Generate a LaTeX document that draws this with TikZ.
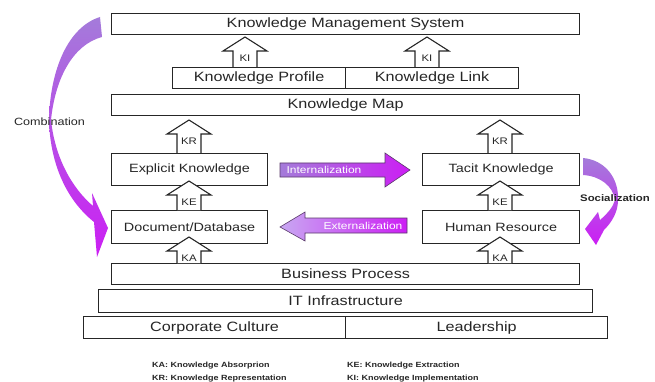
\documentclass[tikz,border=0pt]{standalone}
\usepackage{fontspec}
\setmainfont[FakeStretch=1.2]{Liberation Sans}
\usetikzlibrary{calc}

\definecolor{lav}{HTML}{A47BDA}
\definecolor{lavlight}{HTML}{C8A8F2}
\definecolor{mag}{HTML}{CC1EF4}
\definecolor{ink}{HTML}{262626}
\definecolor{edge}{HTML}{5A3A6A}

\tikzset{
  layer/.style={draw=ink, line width=1.2pt, fill=white, inner sep=0pt,
    anchor=north west, text=ink, font=\fontsize{13.5}{15}\selectfont},
  kbox/.style={layer, font=\fontsize{12}{14}\selectfont},
  blockarrow/.style={draw=ink, line width=1.1pt, fill=white, line join=miter},
  flowtag/.style={inner sep=0pt, text=ink, font=\fontsize{9.5}{11}\selectfont},
  flowband/.style={draw=edge, line width=0.6pt},
  bandtext/.style={inner sep=0pt, text=white, font=\fontsize{10}{12}\selectfont},
  modelabel/.style={inner sep=0pt, text=ink, font=\bfseries\fontsize{9.5}{11}\selectfont},
  legend/.style={inner sep=0pt, anchor=west, text=ink, font=\bfseries\fontsize{7.5}{9}\selectfont}
}

% upward block arrow: name, centre x, bottom y, tip y, label
\newcommand\blockup[5]{%
  \draw[blockarrow] (#2-12,#3) -- (#2-12,#4+14) -- (#2-22,#4+14) -- (#2,#4)
    -- (#2+22,#4+14) -- (#2+12,#4+14) -- (#2+12,#3);
  \node[flowtag] (#1) at (#2,#4+21) {#5};
}

\begin{document}
\begin{tikzpicture}[x=1pt,y=-1pt]
\useasboundingbox (0,0) rectangle (655,382);

% layered boxes
\node[layer, minimum width=468, minimum height=21] (kms) at (111,13) {Knowledge Management System};
\node[layer, minimum width=173, minimum height=21] (kprof) at (172,67) {Knowledge Profile};
\node[layer, minimum width=173, minimum height=21] (klink) at (345,67) {Knowledge Link};
\node[layer, minimum width=468, minimum height=21] (kmap) at (111,94) {Knowledge Map};
\node[kbox, minimum width=156, minimum height=32] (explicit) at (111,153) {Explicit Knowledge};
\node[kbox, minimum width=157, minimum height=32] (tacit) at (422,153) {Tacit Knowledge};
\node[kbox, minimum width=156, minimum height=33] (docdb) at (111,210) {Document/Database};
\node[kbox, minimum width=157, minimum height=33] (human) at (422,210) {Human Resource};
\node[layer, minimum width=468, minimum height=21] (bproc) at (111,263) {Business Process};
\node[layer, minimum width=494, minimum height=23] (itinf) at (98,289) {IT Infrastructure};
\node[layer, minimum width=262, minimum height=22] (corp) at (83,316) {Corporate Culture};
\node[layer, minimum width=262, minimum height=22] (lead) at (345,316) {Leadership};

% knowledge flows between layers
\blockup{kiL}{245}{67}{37}{KI}
\blockup{kiR}{427}{67}{37}{KI}
\blockup{krL}{189}{153}{120}{KR}
\blockup{krR}{500}{153}{120}{KR}
\blockup{keL}{189}{210}{181}{KE}
\blockup{keR}{500}{210}{181}{KE}
\blockup{kaL}{189}{263}{237}{KA}
\blockup{kaR}{500}{263}{237}{KA}

% internalization
\path[flowband, left color=lav, right color=mag]
  (280,163) -- (385,163) -- (385,153) -- (410,170) -- (385,187) -- (385,177) -- (280,177) -- cycle;
\node[bandtext] (intern) at (324,170) {Internalization};

% externalization
\path[flowband, left color=lavlight, right color=mag]
  (407,218) -- (305,218) -- (305,212) -- (280,227) -- (305,241) -- (305,233) -- (407,233) -- cycle;
\node[bandtext] (extern) at (363,226) {Externalization};

% combination
\path[top color=lav, middle color=lav, bottom color=mag]
  (100,17) .. controls (68,27) and (50,70) .. (49,120)
  .. controls (50,160) and (64,198) .. (94,222)
  -- (97,257) -- (108,228) -- (92,193) -- (93,206)
  .. controls (72,188) and (55,158) .. (51,120)
  .. controls (55,80) and (72,45) .. (102,37) -- cycle;
\node[modelabel, font=\fontsize{10.5}{12}\selectfont] (comb) at (49.5,122) {Combination};

% socialization
\path[top color=lav, middle color=lav, bottom color=mag]
  (583,158) .. controls (605,160) and (619,178) .. (618,200)
  .. controls (618,212) and (612,222) .. (604,230)
  -- (596,245) -- (585,229) -- (598,212) -- (600,220)
  .. controls (608,213) and (613,207) .. (615,200)
  .. controls (613,186) and (600,176) .. (583,175) -- cycle;
\node[modelabel] (soc) at (615,198) {Socialization};

% legend
\node[legend] (lgKA) at (152,366) {KA: Knowledge Absorprion};
\node[legend] (lgKR) at (152,379) {KR: Knowledge Representation};
\node[legend] (lgKE) at (347,366) {KE: Knowledge Extraction};
\node[legend] (lgKI) at (347,379) {KI: Knowledge Implementation};
\end{tikzpicture}
\end{document}
